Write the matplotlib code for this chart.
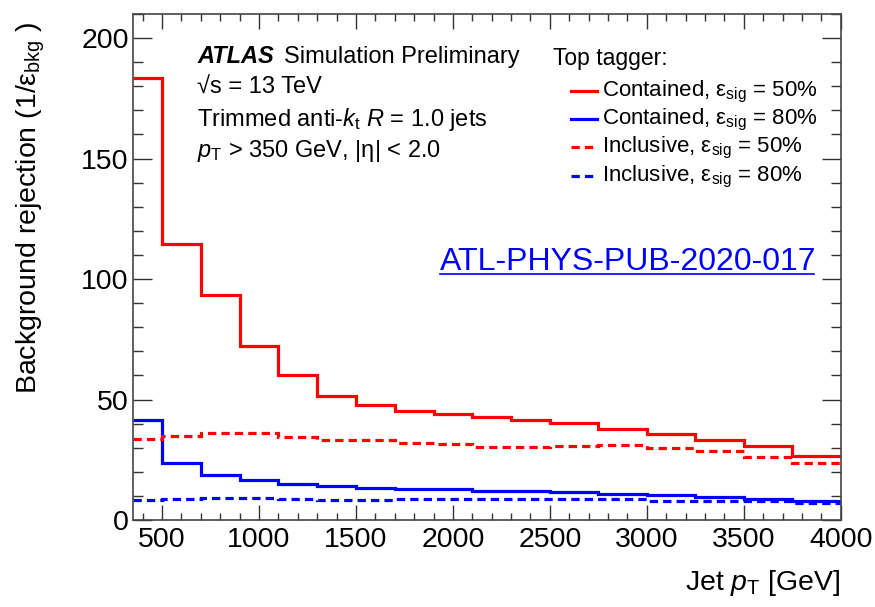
import numpy as np
import matplotlib
matplotlib.use("Agg")
import matplotlib.pyplot as plt
from matplotlib import font_manager
from matplotlib.ticker import MultipleLocator

# axis text uses the narrow face when it is available
names = {f.name for f in font_manager.fontManager.ttflist}
narrow = 'Liberation Sans Narrow' if 'Liberation Sans Narrow' in names else 'Liberation Sans'
axis_size = 24.5 if narrow == 'Liberation Sans Narrow' else 20.5

plt.rcParams['font.family'] = ['Liberation Sans', 'DejaVu Sans']
plt.rcParams['mathtext.fontset'] = 'custom'
plt.rcParams['mathtext.rm'] = narrow
plt.rcParams['mathtext.it'] = narrow + ':italic'
plt.rcParams['mathtext.bf'] = narrow + ':bold'

# jet pT bin edges [GeV]
edges = [350, 500, 700, 900, 1100, 1300, 1500, 1700, 1900, 2100, 2300,
         2500, 2750, 3000, 3250, 3500, 3750, 4000]

# background rejection per bin
cont_50 = [183.5, 114.6, 93.5, 72.1, 60.0, 51.5, 47.8, 45.3, 43.8, 42.6,
           41.4, 40.1, 37.8, 35.5, 33.1, 30.8, 26.5]
cont_80 = [41.7, 23.6, 18.6, 16.6, 15.0, 14.0, 13.3, 12.7, 12.7, 12.0,
           12.0, 11.6, 10.9, 10.4, 9.7, 8.7, 8.0]
incl_50 = [33.6, 34.8, 36.2, 36.2, 34.3, 33.1, 33.0, 31.9, 31.6, 30.5,
           30.5, 30.7, 31.0, 29.7, 28.5, 26.2, 23.7]
incl_80 = [8.3, 8.7, 9.1, 9.1, 8.8, 8.4, 8.4, 8.7, 8.8, 8.8,
           8.7, 8.7, 8.7, 8.0, 8.0, 8.0, 7.2]

series = [
    (cont_50, 'red', '-', r'Contained, $\mathrm{ε}_{\rm sig}$ = 50%'),
    (cont_80, 'blue', '-', r'Contained, $\mathrm{ε}_{\rm sig}$ = 80%'),
    (incl_50, 'red', '--', r'Inclusive, $\mathrm{ε}_{\rm sig}$ = 50%'),
    (incl_80, 'blue', '--', r'Inclusive, $\mathrm{ε}_{\rm sig}$ = 80%'),
]
dash = (0, (2.6, 1.6))

fig = plt.figure(figsize=(8.75, 6.07), dpi=100)
ax = fig.add_axes([133 / 875, 87 / 607, 707.7 / 875, 506 / 607])

for vals, col, ls, lab in series:
    ax.stairs(vals, edges, baseline=None, color=col, lw=2.3,
              linestyle=dash if ls == '--' else '-')

ax.set_xlim(350, 4000)
ax.set_ylim(0, 210)
ax.xaxis.set_major_locator(MultipleLocator(500))
ax.xaxis.set_minor_locator(MultipleLocator(100))
ax.yaxis.set_major_locator(MultipleLocator(50))
ax.yaxis.set_minor_locator(MultipleLocator(10))
ax.tick_params(which='both', direction='in', top=True, right=True,
               color='#333333', width=1.0)
ax.tick_params(axis='x', which='major', length=11, pad=5)
ax.tick_params(axis='x', which='minor', length=5)
ax.tick_params(axis='y', which='major', length=14, pad=3)
ax.tick_params(axis='y', which='minor', length=7)
for lab in ax.get_xticklabels() + ax.get_yticklabels():
    lab.set_fontfamily(narrow)
    lab.set_fontsize(axis_size)
for sp in ax.spines.values():
    sp.set_color('#444444')
    sp.set_linewidth(1.2)

ax.set_xlabel(r'Jet $p_{\rm T}$ [GeV]', fontsize=axis_size, family=narrow,
              loc='right')
ax.xaxis.set_label_coords(1.0, (520 - 568) / 506)
ax.set_ylabel(r'Background rejection (1/$\mathrm{ε}_{\rm bkg}$ )',
              fontsize=axis_size, family=narrow, loc='top')
ax.yaxis.set_label_coords((47 - 133) / 707.7, (520 - 22) / 506)

# ATLAS label block
tx = (197 - 133) / 707.7
ax.text(tx, 0.9026, 'ATLAS', transform=ax.transAxes, fontsize=17,
        fontweight='bold', fontstyle='italic', va='baseline')
ax.text((284 - 133) / 707.7, 0.9026, 'Simulation Preliminary',
        transform=ax.transAxes, fontsize=17, va='baseline')
ax.text(tx, 0.8419, '√s = 13 TeV', transform=ax.transAxes, fontsize=17,
        va='baseline')
ax.text(tx, 0.7787, r'Trimmed anti-$k_{\rm t}$ $R$ = 1.0 jets',
        transform=ax.transAxes, fontsize=17, va='baseline')
ax.text(tx, 0.7168, r'$p_{\rm T}$ > 350 GeV, |η| < 2.0',
        transform=ax.transAxes, fontsize=17, va='baseline')

# legend block
ax.text((553 - 133) / 707.7, (520 - 65) / 506, 'Top tagger:',
        transform=ax.transAxes, fontsize=16.5, va='baseline')
line_y = [91, 118.7, 147.3, 176]
text_y = [96, 124.3, 152.7, 181]
for (vals, col, ls, lab), ly, ty in zip(series, line_y, text_y):
    ax.plot([(571 - 133) / 707.7, (597 - 133) / 707.7],
            [(520 - ly) / 506] * 2, transform=ax.transAxes, color=col,
            lw=2.3, linestyle=dash if ls == '--' else '-', clip_on=False)
    ax.text((602 - 133) / 707.7, (520 - ty) / 506, lab,
            transform=ax.transAxes, fontsize=16, va='baseline')

ax.text((440 - 133) / 707.7, (520 - 270) / 506, 'ATL-PHYS-PUB-2020-017',
        transform=ax.transAxes, fontsize=23, color='blue', va='baseline')
ax.plot([(440 - 133) / 707.7, (814 - 133) / 707.7],
        [(520 - 273.5) / 506] * 2, transform=ax.transAxes, color='blue',
        lw=1.2)

fig.savefig('out.png', dpi=100)
